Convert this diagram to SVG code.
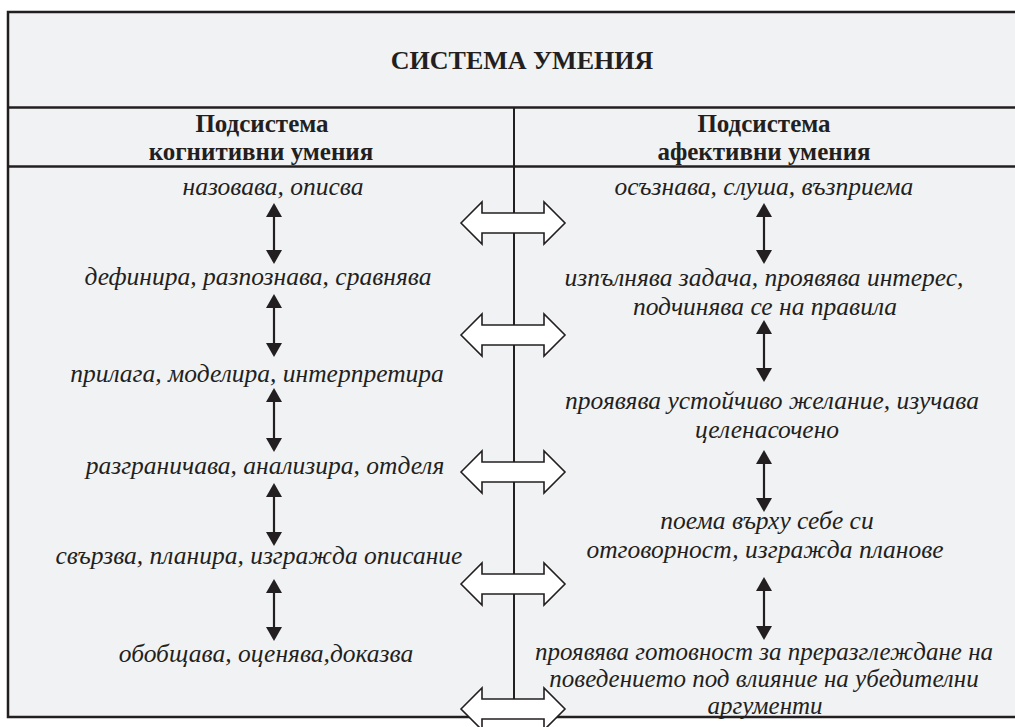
<svg xmlns="http://www.w3.org/2000/svg" width="1015" height="727" viewBox="0 0 1015 727">
<style>
.ln{stroke:#231f20;fill:none}
.t{font-family:"Liberation Serif","Times New Roman",serif;fill:#231f20;text-anchor:middle}
.ti{font-size:26px;font-weight:bold}
.sh{font-size:25px;font-weight:bold}
.it{font-size:25.5px;font-style:italic}
.blk{fill:#ffffff;stroke:#231f20;stroke-width:1.6}
.sa{stroke:#231f20;stroke-width:2.2;fill:none;marker-start:url(#ah);marker-end:url(#ah)}
</style>
<defs>
<marker id="ah" viewBox="0 0 14 16" refX="12" refY="8" markerWidth="14" markerHeight="16" markerUnits="userSpaceOnUse" orient="auto-start-reverse">
<path d="M0,0 L14,8 L0,16 Z" fill="#231f20"/>
</marker>
<path id="blk" d="M-53,0 L-32,-21 L-32,-10 L30,-10 L30,-21 L51,0 L30,21 L30,10 L-32,10 L-32,21 Z"/>
</defs>
<rect x="0" y="0" width="1015" height="727" fill="#ffffff"/>
<g id="frame">
<rect x="8" y="12" width="1012" height="705" fill="#f1f2f4" stroke="#231f20" stroke-width="2.5"/>
<line class="ln" x1="8" y1="107.5" x2="1015" y2="107.5" stroke-width="2.5"/>
<line class="ln" x1="8" y1="166.5" x2="1015" y2="166.5" stroke-width="2.5"/>
<line class="ln" x1="514" y1="107" x2="514" y2="717" stroke-width="2"/>
</g>
<g id="title"><text class="t ti" x="522" y="69">СИСТЕМА УМЕНИЯ</text></g>
<g id="sub-left"><text class="t sh" x="262" y="132">Подсистема</text><text class="t sh" x="261" y="160">когнитивни умения</text></g>
<g id="sub-right"><text class="t sh" x="764" y="132">Подсистема</text><text class="t sh" x="764" y="160">афективни умения</text></g>
<g id="cog1"><text class="t it" x="273" y="195">назовава, описва</text></g>
<g id="cog2"><text class="t it" x="258" y="285">дефинира, разпознава, сравнява</text></g>
<g id="cog3"><text class="t it" x="257" y="382">прилага, моделира, интерпретира</text></g>
<g id="cog4"><text class="t it" x="265" y="474">разграничава, анализира, отделя</text></g>
<g id="cog5"><text class="t it" x="259" y="564">свързва, планира, изгражда описание</text></g>
<g id="cog6"><text class="t it" x="266" y="662">обобщава, оценява,доказва</text></g>
<g id="aff1"><text class="t it" x="764" y="195">осъзнава, слуша, възприема</text></g>
<g id="aff2"><text class="t it" x="764" y="286">изпълнява задача, проявява интерес,</text><text class="t it" x="765" y="315">подчинява се на правила</text></g>
<g id="aff3"><text class="t it" x="772" y="409">проявява устойчиво желание, изучава</text><text class="t it" x="767" y="438">целенасочено</text></g>
<g id="aff4"><text class="t it" x="767" y="529">поема върху себе си</text><text class="t it" x="765" y="558">отговорност, изгражда планове</text></g>
<g id="aff5" style="font-size:25px"><text class="t it" x="764" y="660" style="font-size:25px">проявява готовност за преразглеждане на</text><text class="t it" x="764" y="687" style="font-size:25px">поведението под влияние на убедителни</text><text class="t it" x="765" y="714" style="font-size:25px">аргументи</text></g>
<g id="connectors">
<line class="sa" x1="274" y1="205" x2="274" y2="262"/>
<line class="sa" x1="274" y1="296" x2="274" y2="355"/>
<line class="sa" x1="274" y1="390" x2="274" y2="450"/>
<line class="sa" x1="274" y1="485" x2="274" y2="544"/>
<line class="sa" x1="274" y1="581" x2="274" y2="639"/>
<line class="sa" x1="764" y1="205" x2="764" y2="262"/>
<line class="sa" x1="764" y1="322" x2="764" y2="380"/>
<line class="sa" x1="764" y1="452" x2="764" y2="510"/>
<line class="sa" x1="764" y1="579" x2="764" y2="638"/>
<use href="#blk" class="blk" x="514" y="223"/>
<use href="#blk" class="blk" x="514" y="335"/>
<use href="#blk" class="blk" x="514" y="472"/>
<use href="#blk" class="blk" x="514" y="584"/>
<use href="#blk" class="blk" x="514" y="709"/>
</g>
</svg>
